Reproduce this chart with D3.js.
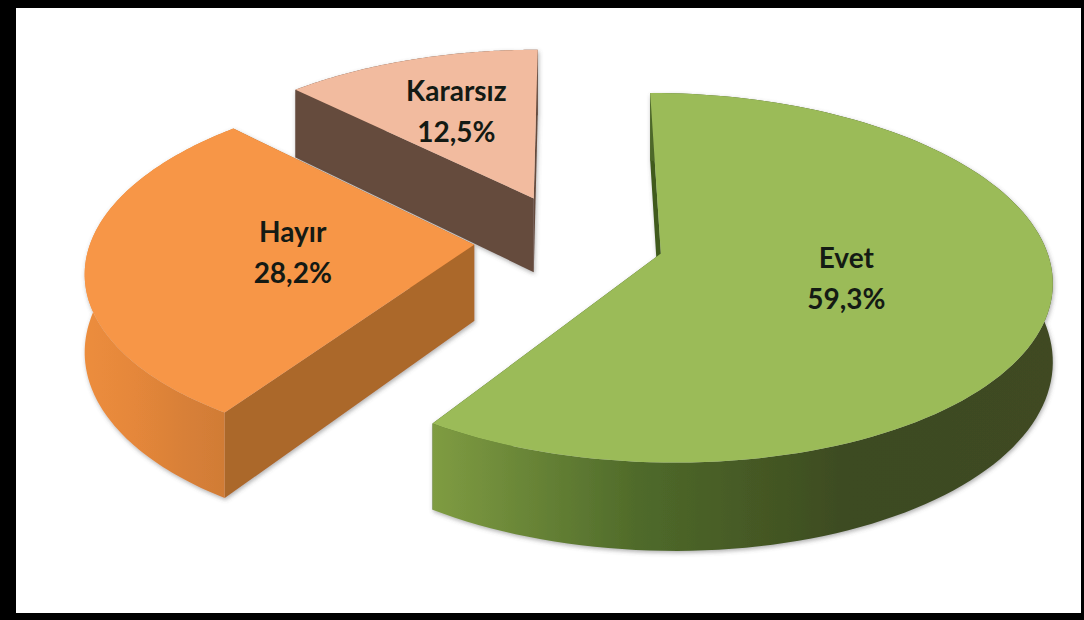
<!DOCTYPE html>
<html><head><meta charset="utf-8">
<script src="https://cdn.jsdelivr.net/npm/d3@7"></script>
<style>html,body{margin:0;padding:0;background:#fff;overflow:hidden}svg{display:block}</style>
</head><body><svg id="c" width="1084" height="620"></svg>
<script>
const categories = ["Evet", "Hayır", "Kararsız"];
const values = [59.3, 28.2, 12.5];
const valueLabels = ["59,3%", "28,2%", "12,5%"];
const topColors = ["#9bbb59", "#f79646", "#f2bb9f"];
const radialColors = ["#3f5a1e", "#ab672c", "#654b3e"];
const outerStops = [["#7f9c42", "#4f6a2a", "#3d4b20", "#3f4a22"], ["#ec8d3d", "#e5873a", "#d88038", "#cf7b35"], ["#654b3e", "#654b3e", "#654b3e", "#654b3e"]];

const W = 1084, H = 620;
const cx = 569, cy = 240, R = 383, explode = 95, explodeYFactor = 1.05, ky = 0.465, persp = 0.13, depth = 76;
const labelFraction = [0.487, 0.47, 0.6];
const rad = d => d * Math.PI / 180;
const start = rad(0);

const svg = d3.select("#c");
const defs = svg.append("defs");
const f = defs.append("filter").attr("id", "soft").attr("x", "-10%").attr("y", "-10%").attr("width", "120%").attr("height", "120%");
f.append("feDropShadow").attr("dx", 1).attr("dy", 2).attr("stdDeviation", 2).attr("flood-color", "#555").attr("flood-opacity", 0.45);

svg.append("rect").attr("width", W).attr("height", H).attr("fill", "#000");
svg.append("rect").attr("x", 16).attr("y", 8).attr("width", W - 16 - 3).attr("height", H - 8 - 7).attr("fill", "#fff");

const arcs = d3.pie().sort(null).startAngle(start).endAngle(start + 2 * Math.PI)(values);

function project(X, Y, z) {
  const s = 1 / (1 - persp * Y / R);
  return [cx + X * s, cy + (Y * ky + z) * s];
}
function planePoint(d, a, r) {
  const m = (d.startAngle + d.endAngle) / 2;
  return [explode * Math.sin(m) + r * Math.sin(a), -explode * explodeYFactor * Math.cos(m) - r * Math.cos(a)];
}
const line = d3.line();
const draw = arcs.map((d, i) => i).reverse();

draw.forEach(i => {
  const d = arcs[i];
  const g = svg.append("g").attr("filter", "url(#soft)");
  const angles = d3.range(0, 121).map(k => d.startAngle + (d.endAngle - d.startAngle) * k / 120);
  const P = (a, r, z) => { const p = planePoint(d, a, r); return project(p[0], p[1], z); };
  const topArc = angles.map(a => P(a, R, 0));
  const botArc = angles.map(a => P(a, R, depth));
  const apexT = P(0, 0, 0), apexB = P(0, 0, depth);

  const gid = "outer" + i;
  const ext = d3.extent(topArc, p => p[0]);
  const lg = defs.append("linearGradient").attr("id", gid).attr("gradientUnits", "userSpaceOnUse")
    .attr("x1", ext[0]).attr("x2", ext[1]).attr("y1", 0).attr("y2", 0);
  outerStops[i].forEach((c, k) => lg.append("stop").attr("offset", k / 3).attr("stop-color", c));

  [d.endAngle, d.startAngle].forEach(a => {
    g.append("path").attr("d", line([apexT, P(a, R, 0), P(a, R, depth), apexB]) + "Z").attr("fill", radialColors[i]);
  });
  g.append("path").attr("d", line(topArc.concat(botArc.slice().reverse())) + "Z").attr("fill", `url(#${gid})`);
  g.append("path").attr("d", line([apexT].concat(topArc)) + "Z").attr("fill", topColors[i]);
});

arcs.forEach((d, i) => {
  const m = (d.startAngle + d.endAngle) / 2;
  const p = planePoint(d, m, R * labelFraction[i]);
  const q = project(p[0], p[1], 0);
  const t = svg.append("text").attr("text-anchor", "middle")
    .attr("font-family", "Lato, 'Open Sans', sans-serif").attr("font-weight", 700).attr("font-size", 28).attr("fill", "#141a14");
  t.append("tspan").attr("x", q[0]).attr("y", q[1] - 11).text(categories[i]);
  t.append("tspan").attr("x", q[0]).attr("y", q[1] + 30).text(valueLabels[i]);
});
</script></body></html>
